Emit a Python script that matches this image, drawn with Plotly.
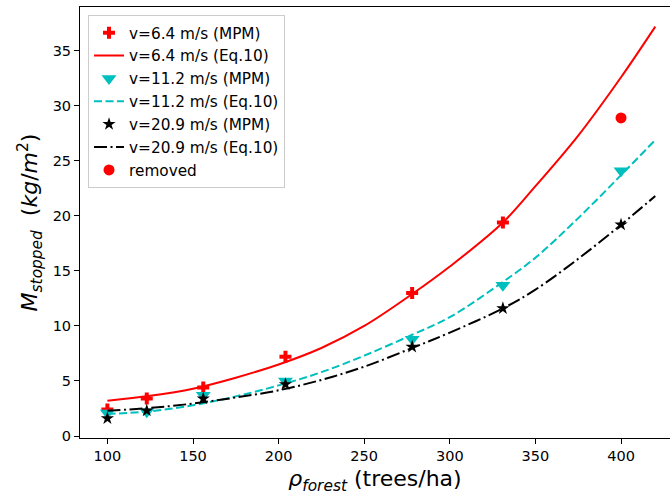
import plotly.graph_objects as go

# Measured (MPM) data
rho_mpm = [100, 123, 156, 204, 278, 331]
m_v64 = [2.4, 3.4, 4.4, 7.2, 13.0, 19.4]
rho_mpm7 = [100, 123, 156, 204, 278, 331, 400]
m_v112 = [2.1, 2.2, 3.7, 5.0, 8.8, 13.7, 24.1]
m_v209 = [1.6, 2.3, 3.4, 4.7, 8.1, 11.6, 19.2]
rho_removed = [400]
m_removed = [28.9]

# Eq.10 curves
rho_eq = [100, 125, 150, 175, 200, 225, 250, 278, 300, 331, 350, 375, 400, 420]
eq_v64 = [3.2, 3.65, 4.3, 5.3, 6.5, 8.0, 10.0, 12.9, 15.4, 19.4, 22.7, 27.3, 32.6, 37.2]
eq_v112 = [2.0, 2.25, 2.8, 3.6, 4.6, 5.8, 7.3, 9.2, 10.8, 14.0, 16.2, 19.8, 23.7, 26.9]
eq_v209 = [2.3, 2.55, 2.95, 3.5, 4.15, 5.1, 6.3, 8.0, 9.4, 11.6, 13.3, 16.1, 19.2, 21.8]

RED = "#ff0000"
CYAN = "#00bfbf"
BLACK = "#000000"

fig = go.Figure()
fig.add_trace(go.Scatter(x=rho_mpm, y=m_v64, mode="markers", name="v=6.4 m/s (MPM)",
                         marker=dict(symbol="cross", size=10, color=RED)))
fig.add_trace(go.Scatter(x=rho_eq, y=eq_v64, mode="lines", name="v=6.4 m/s (Eq.10)",
                         line=dict(color=RED, width=2, shape="spline")))
fig.add_trace(go.Scatter(x=rho_mpm7, y=m_v112, mode="markers", name="v=11.2 m/s (MPM)",
                         marker=dict(symbol="triangle-down", size=13, color=CYAN)))
fig.add_trace(go.Scatter(x=rho_eq, y=eq_v112, mode="lines", name="v=11.2 m/s (Eq.10)",
                         line=dict(color=CYAN, width=2, dash="8px,3.5px", shape="spline")))
fig.add_trace(go.Scatter(x=rho_mpm7, y=m_v209, mode="markers", name="v=20.9 m/s (MPM)",
                         marker=dict(symbol="star", size=10, color=BLACK)))
fig.add_trace(go.Scatter(x=rho_eq, y=eq_v209, mode="lines", name="v=20.9 m/s (Eq.10)",
                         line=dict(color=BLACK, width=2, dash="13px,3.5px,2px,3.5px", shape="spline")))
fig.add_trace(go.Scatter(x=rho_removed, y=m_removed, mode="markers", name="removed",
                         marker=dict(symbol="circle", size=11, color=RED)))

font_family = "DejaVu Sans"
fig.update_layout(
    width=670, height=495,
    margin=dict(l=80, r=0, t=7, b=57),
    paper_bgcolor="white", plot_bgcolor="white",
    font=dict(family=font_family, size=14, color="black"),
    showlegend=True,
    legend=dict(x=0.0136, y=0.981, xanchor="left", yanchor="top",
                bgcolor="rgba(255,255,255,0.8)", bordercolor="#cccccc", borderwidth=1,
                font=dict(size=15.3), tracegroupgap=0),
)
fig.update_xaxes(
    range=[84, 428.6], tickvals=[100, 150, 200, 250, 300, 350, 400],
    showline=True, linecolor="black", linewidth=1, mirror=True,
    ticks="outside", ticklen=5, tickwidth=1, tickcolor="black",
    showgrid=False, zeroline=False, tickfont=dict(size=14.5),
    title=dict(text="<i>ρ</i><sub><i>forest</i></sub> (trees/ha)", font=dict(size=22), standoff=8),
)
fig.update_yaxes(
    range=[-0.18, 38.98], tickvals=[0, 5, 10, 15, 20, 25, 30, 35],
    showline=True, linecolor="black", linewidth=1, mirror=False,
    ticks="outside", ticklen=5, tickwidth=1, tickcolor="black",
    showgrid=False, zeroline=False, tickfont=dict(size=14.5),
    title=dict(text="<i>M</i><sub><i>stopped</i></sub>  (<i>kg</i>/<i>m</i><sup>2</sup>)",
               font=dict(size=22), standoff=8),
)

fig.write_html("out.html")
